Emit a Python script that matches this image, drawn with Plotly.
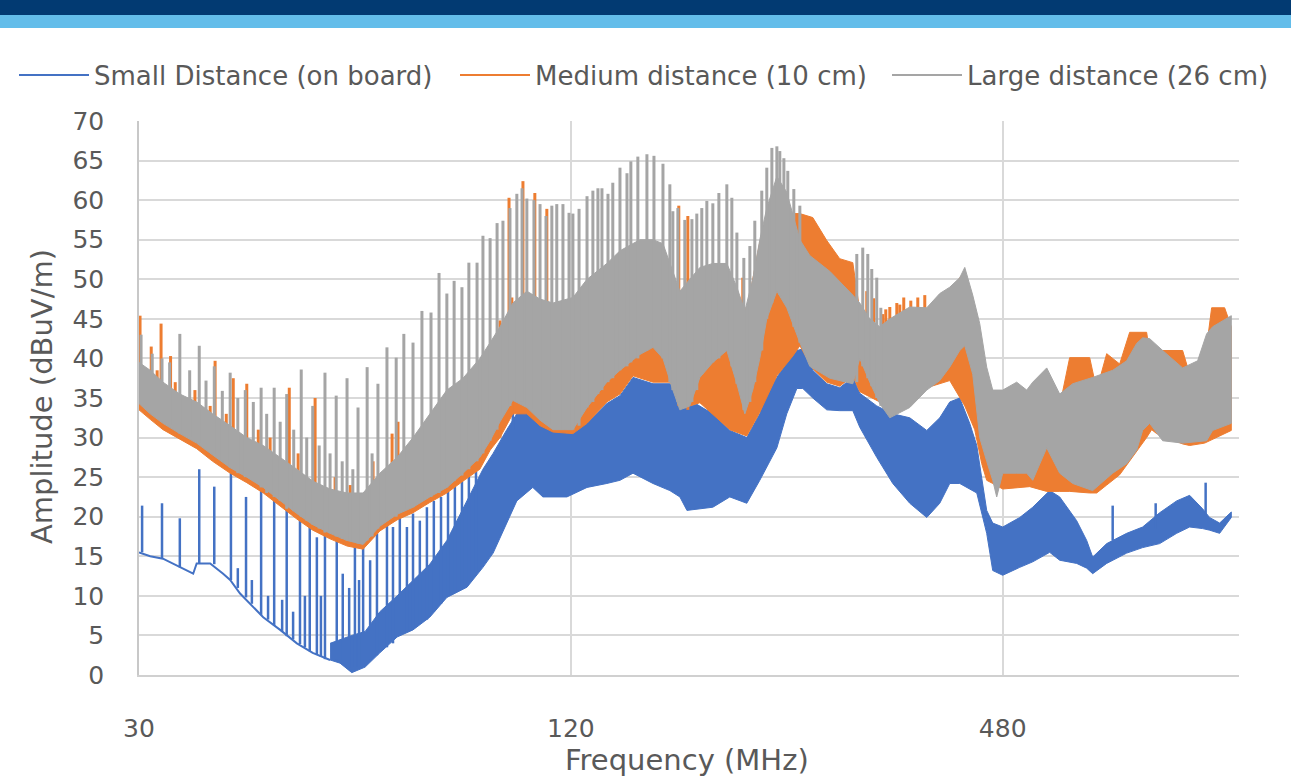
import plotly.graph_objects as go

# ---------------- data ----------------
names = ["Small Distance (on board)", "Medium distance (10 cm)", "Large distance (26 cm)"]
colors = ["#4472C4", "#ED7D31", "#A5A5A5"]

# Large distance (26 cm): dense band (lower / upper envelope) in MHz
grey_mhz = [30.0, 31.1, 32.4, 34.2, 36.1, 38.0, 40.2, 42.4, 44.7, 47.2,
            49.8, 52.4, 55.4, 58.5, 61.6, 65.0, 68.7, 72.3, 76.3, 80.6,
            84.9, 89.6, 92.6, 95.6, 99.6, 104.2, 108.7, 113.3, 120.8, 126.4,
            134.7, 140.5, 149.8, 156.2, 161.3, 166.5, 170.3, 175.8, 181.6, 189.3,
            198.0, 204.5, 209.8, 215.2, 220.1, 225.1, 232.5, 240.0, 250.3, 258.4,
            275.6, 296.7, 303.4, 313.3, 323.5, 334.1, 356.2, 376.2, 392.2, 405.0,
            418.2, 425.0, 436.0, 445.9, 456.0, 464.9, 470.9, 480.1, 502.1, 518.5,
            528.6, 552.9, 576.4, 601.0, 640.8, 683.3, 714.7, 738.0, 752.3, 769.4,
            802.2, 855.3, 897.5, 923.8, 941.8, 1000]
grey_lo = [34.3, 33, 31.8, 30.5, 29.3, 27.8, 26.2, 25, 23.7, 22,
           20.4, 19, 17.9, 17, 16.5, 18.8, 20.3, 21.2, 22.5, 23.7,
           25.5, 27.5, 29.6, 32, 34.7, 33.8, 32.2, 31, 31, 33.8,
           37, 38.5, 40.5, 41.4, 40, 36, 33.5, 34, 37.6, 39.5,
           41, 36.8, 33, 36, 40, 45, 48.5, 46.4, 42, 39,
           37.5, 36.8, 40, 37, 34.3, 32.5, 33.8, 36, 37.2, 38.9,
           41, 41.6, 38, 30, 27, 24.6, 22.5, 25.5, 25.5, 25.5,
           24.6, 28.7, 25.5, 24.2, 23.3, 25.5, 26.7, 28.4, 30.9, 31.8,
           29.6, 29.3, 29.5, 29.6, 30.9, 31.8]
grey_hi = [39.5, 38.5, 37, 35.5, 34.5, 33, 31.5, 30, 29, 27.5,
           26, 24.5, 23.5, 23, 23, 25.5, 27.5, 30, 33, 36,
           37.5, 40, 42, 44, 47, 48.5, 47.5, 47, 47.7, 50,
           52, 53.6, 55, 55, 54.5, 51, 48.5, 50, 51.5, 52,
           52, 49, 46, 50, 55, 59, 63, 61, 55, 53,
           51, 48, 47, 45, 44, 45, 46.5, 46.4, 48.2, 49,
           50.2, 51.5, 48, 44.4, 38.9, 36, 36, 36, 37, 36,
           37, 38.8, 35.5, 36.8, 37.6, 38.5, 39.7, 41.9, 42.6, 42.5,
           41, 38.8, 39.7, 43.1, 44, 45.4]
# Large distance: harmonic spikes (frequency, foot, peak)
grey_spike_mhz = [30.2, 31.3, 32.3, 33.1, 34.2, 35.3, 36.4, 37.2, 38.2, 39.2,
                  40.2, 41.2, 42.2, 43.3, 44.4, 45.2, 46.3, 47.2, 48.2, 49.3,
                  50.5, 51.4, 52.4, 53.5, 54.5, 55.4, 56.5, 57.6, 58.5, 59.6,
                  60.6, 62.4, 63.4, 64.6, 66.5, 68.5, 70.2, 72.3, 74.4, 76.6,
                  78.6, 80.6, 82.5, 84.6, 86.5, 88.8, 90.5, 92.6, 94.7, 96.5,
                  98.7, 100.9, 102.6, 104.2, 106.6, 108.7, 110.8, 112.9, 114.7, 117.0,
                  119.3, 120.8, 123.2, 126.4, 128.8, 130.9, 132.6, 135.2, 137.3, 140.5,
                  143.7, 145.5, 148.8, 153.2, 156.7, 161.3, 164.9, 166.5, 169.2, 173.0,
                  177.0, 179.8, 182.7, 185.7, 189.3, 193.0, 198.0, 201.2, 204.5, 209.1,
                  213.2, 216.6, 221.5, 225.1, 228.8, 232.5, 234.7, 237.8, 240.8, 245.5,
                  250.3, 300.5, 306.3, 311.3, 315.3, 320.4, 324.6]
grey_spike_foot = [35, 33.5, 32, 31.5, 30.5, 30, 29.3, 28.5, 27.8, 27,
                   26.2, 25.5, 25, 24.5, 23.7, 23, 22.5, 22, 21, 20.7,
                   20, 19.5, 19, 18.5, 18, 17.9, 17.5, 17.2, 17, 16.8,
                   16.6, 17, 17.5, 18.5, 19.5, 20, 21, 21.2, 22, 22.5,
                   23, 23.7, 24.5, 25.2, 26, 27, 28, 29.6, 31, 33,
                   34, 34.5, 34.5, 34, 33.5, 32.5, 32, 31.5, 31, 31,
                   31, 31, 31.5, 33.8, 34.5, 35.5, 36, 37, 37.5, 38.5,
                   39, 39.5, 40, 41, 41.4, 40, 37, 36, 34.5, 33.7,
                   34.5, 36, 38, 38.8, 39.5, 40, 41, 39, 36.8, 33.5,
                   34.5, 37, 41, 45, 47, 48.5, 48, 47.5, 46.5, 44,
                   42, 37, 39, 37.5, 36.5, 35, 34]
grey_spike_peak = [43, 40.6, 40, 39.5, 43.1, 38.5, 41.6, 37.2, 39, 35.9,
                   38.2, 35, 36, 34.5, 36.3, 33, 36.3, 32, 35.5, 31,
                   38.6, 30, 34, 29, 38.2, 28, 35.3, 27, 37.5, 26,
                   33.8, 38.9, 28, 36.8, 41.4, 40.1, 43.1, 42, 46, 45.8,
                   50.8, 48.2, 49.8, 49, 52.1, 52.1, 55.5, 55.2, 57.1, 57.4,
                   59, 60.8, 61.5, 60.2, 60, 59.5, 58, 59.3, 59.5, 59.5,
                   58.4, 58.3, 58.9, 60.5, 61.2, 61.5, 61.5, 60.8, 62.2, 64.1,
                   63.4, 64.9, 65.5, 65.8, 65.6, 64.6, 62, 58.6, 59, 57.5,
                   57.6, 58.3, 59, 59.9, 59.6, 60.9, 62, 60.3, 55.9, 52.7,
                   54.2, 57.4, 61.2, 64.1, 66.6, 66.8, 66.2, 65.3, 63.7, 61.4,
                   59.3, 53.2, 54, 53.2, 51.3, 50.2, 46.4]

# Medium distance (10 cm): dense band
orange_mhz = [30.0, 31.1, 32.4, 34.2, 36.1, 38.0, 40.2, 42.4, 44.7, 47.2,
              49.8, 52.4, 55.4, 58.5, 61.6, 65.0, 68.7, 72.3, 76.3, 80.6,
              84.9, 89.6, 92.6, 95.6, 99.6, 104.2, 108.7, 113.3, 120.8, 126.4,
              134.7, 140.5, 146.5, 156.2, 164.9, 170.3, 175.8, 181.6, 189.3, 199.9,
              211.1, 220.1, 232.5, 244.7, 250.3, 260.9, 272.9, 284.5, 296.7, 303.4,
              323.5, 339.5, 356.2, 376.2, 405.0, 425.0, 438.8, 448.8, 456.0, 464.9,
              480.1, 523.5, 552.9, 576.4, 595.2, 634.7, 649.1, 670.3, 698.8, 721.6,
              762.0, 774.4, 786.9, 855.3, 874.8, 917.9, 938.8, 978.8, 1000]
orange_lo = [33.5, 32.3, 31, 29.8, 28.6, 27, 25.5, 24.3, 23, 21.3,
             19.7, 18.3, 17.2, 16.3, 15.9, 18.2, 19.6, 20.5, 21.8, 23,
             24.5, 26, 28.4, 30, 33, 33, 31.5, 30.7, 30.5, 31.8,
             34.5, 35.5, 37.8, 37, 37, 35.2, 34, 34.4, 33, 31,
             30.2, 33.2, 37.8, 40.3, 41.6, 38.7, 37, 36.5, 37.8, 35.8,
             34.5, 35, 36.3, 36.3, 37.2, 34, 31, 26.7, 24.6, 24.2,
             23.5, 23.8, 23.2, 23.2, 23.2, 23, 23, 24, 25.3, 27,
             30, 31, 30.5, 29.2, 29, 29.3, 29.8, 30.5, 30.9]
orange_hi = [39.2, 38.2, 36.7, 35.2, 34.2, 32.7, 31.2, 29.7, 28.7, 27.2,
             25.7, 24.2, 23.2, 22.7, 22.7, 25.2, 27.2, 29.7, 32.7, 35.7,
             37.2, 39.7, 41.7, 43.7, 46.7, 48.2, 47.2, 46.7, 47.4, 49.7,
             51.7, 53.3, 54, 54.7, 51, 48.2, 49.7, 51.2, 51.7, 50,
             46, 54.7, 58, 58.3, 58.3, 57.8, 54.9, 52.6, 52.1, 46,
             43.5, 44.8, 46, 46, 48.5, 51, 44, 41, 37, 34.5,
             34, 34, 35, 34, 40.1, 40.1, 36, 40.6, 39.3, 43.3,
             43.3, 39, 41, 41, 38, 39.5, 46.4, 46.4, 44]
orange_spike_mhz = [30.1, 31.2, 31.8, 32.2, 33.2, 33.7, 35.9, 37.7, 38.3, 39.7,
                    40.6, 42.4, 44.0, 45.7, 48.6, 50.0, 52.8, 56.3, 59.1, 61.4,
                    63.6, 66.1, 67.6, 68.9, 73.9, 78.8, 84.1, 95.6, 98.4, 99.3,
                    102.9, 106.9, 111.1, 169.7, 174.7, 208.4,
                    310.3, 317.3, 326.7, 329.8, 334.1, 341.7, 345.0, 349.4, 357.4, 365.5,
                    373.8]
orange_spike_foot = [34, 32.5, 32, 31.5, 31, 30.5, 29, 28, 27.5, 26.5,
                     25.5, 25, 24, 23, 21, 20.2, 18.8, 17.5, 16.5, 16.2,
                     17.5, 19, 19.5, 20, 21.5, 23, 24.5, 30, 34, 33,
                     34, 33, 32, 34, 33.5, 33,
                     38, 37, 36, 36, 36, 36, 36, 36, 36.3, 36.3,
                     36.3]
orange_spike_peak = [45.4, 41.5, 38.5, 44.4, 40.3, 37, 36, 34, 39.7, 33,
                     37.5, 36.8, 31, 30, 36.3, 28, 35, 25, 24, 22.5,
                     27, 25, 30.5, 32, 30, 33, 36, 44.8, 60.3, 47.7,
                     62.4, 60.9, 58.9, 59.3, 58, 50.2,
                     48.5, 47.6, 45.6, 46.2, 46.5, 47, 46.8, 47.7, 47.3, 47.7,
                     48]

# Small distance (on board): single trace at low frequency, then dense band
blue_line_mhz = [30.0, 31.1, 32.4, 34.2, 35.7, 36.1, 37.7, 39.3, 40.2, 41.5,
                 43.3, 44.7, 47.2, 49.8, 52.4, 55.4]
blue_line_val = [15.5, 15, 14.7, 13.6, 12.8, 14.1, 14.1, 12.8, 12, 10.3,
                 8.6, 7.3, 5.7, 4, 2.8, 1.9]
blue_mhz = [55.4, 57.2, 59.4, 62.0, 65.0, 68.7, 72.3, 76.3, 80.6, 86.0,
            90.5, 93.5, 97.7, 100.9, 106.2, 109.7, 118.5, 126.4, 134.7, 140.5,
            146.5, 156.2, 164.9, 170.3, 174.2, 179.8, 189.3, 199.9, 211.1, 220.1,
            225.1, 232.5, 240.0, 247.9, 252.7, 260.9, 272.9, 284.5, 296.7, 303.4,
            320.4, 337.3, 356.2, 376.2, 392.2, 405.0, 418.2, 431.8, 441.7, 456.0,
            464.9, 480.1, 507.0, 528.6, 558.2, 576.4, 608.7, 628.6, 640.8, 670.3,
            714.7, 752.3, 794.5, 839.1, 874.8, 912.0, 932.7, 963.2, 1000]
blue_lo = [1.9, 1.5, 0.3, 1.0, 2.8, 4.8, 5.7, 7.3, 9.8, 11.1,
           13.6, 15.4, 19.2, 22, 23.7, 22.5, 22.5, 23.7, 24.2, 24.6,
           25.5, 24.2, 23.3, 22.5, 20.8, 21, 21.2, 22.5, 21.7, 24.6,
           26.2, 28.7, 33, 36.2, 36.2, 35, 33.5, 33.4, 33.4, 31.3,
           27.5, 24.2, 21.7, 19.9, 21.7, 24.2, 24.2, 23.5, 23, 17.9,
           13.2, 12.6, 13.6, 14.3, 15.5, 14.5, 14.1, 13.5, 12.8, 14.1,
           15.4, 16.1, 16.6, 17.9, 18.7, 18.5, 18.3, 17.9, 19.9]
blue_hi = [4, 4.5, 5, 5.5, 8, 10, 12, 14, 17, 22,
           26, 28, 31, 33, 33.5, 32.5, 30.5, 31.8, 34.3, 35.3,
           37.6, 36.8, 36.8, 35, 33.8, 34.2, 33, 30.9, 30, 33,
           35.5, 37.6, 39.5, 41, 41.2, 38.5, 36.8, 36.3, 37.6, 35.6,
           34, 33, 32.5, 30.9, 32.5, 34.5, 35, 31.8, 29, 20.8,
           19.2, 18.7, 19.9, 21.2, 23.3, 22.5, 19.5, 17, 14.9, 16.6,
           17.9, 18.7, 20.5, 22, 22.7, 21, 19.9, 19.2, 20.6]
blue_spike_mhz = [30.3, 32.3, 34.2, 36.4, 38.2, 40.3, 42.3, 44.4, 46.3, 48.2,
                  50.3, 51.9, 53.1, 54.5, 56.6, 57.7, 60.0, 61.6, 63.0, 64.4,
                  66.5, 67.8, 69.3, 70.9, 72.3, 73.9, 75.6, 77.3, 79.1, 80.9,
                  82.7, 84.6, 86.5, 88.5,
                  41.2, 43.1, 45.4, 47.5, 49.2, 51.1, 53.8, 58.9, 60.8,
                  99.6, 106.2, 683.3, 784.4, 920.9]
blue_spike_foot = [15.5, 14.7, 13.6, 14.1, 14, 12, 9.8, 7.6, 6.2, 4.9,
                   3.9, 3, 2.6, 2, 2, 1.5, 1, 1.5, 2, 2.5,
                   3.5, 4, 5, 5.5, 6, 6.5, 7, 8, 9, 10,
                   10.5, 11, 12, 13,
                   11, 9, 7, 5.5, 4.5, 3.5, 2.3, 1, 1,
                   31, 33, 17, 18.5, 20]
blue_spike_peak = [21.4, 21.7, 19.8, 26, 23.8, 27.5, 22.5, 26.7, 22.5, 24.6,
                   21.2, 19.5, 17.4, 19.5, 19.5, 12.8, 18.3, 16.1, 14.5, 19.5,
                   20.8, 18.7, 19.9, 18.7, 20.4, 19.5, 21.2, 22, 22.5, 24.5,
                   24, 26, 25.5, 28,
                   13.5, 12, 10, 9.5, 8, 10, 10, 11, 12,
                   36.3, 36.3, 21.4, 21.7, 24.3]

x_tick_vals = [30, 120, 480]
y_tick_vals = [0, 5, 10, 15, 20, 25, 30, 35, 40, 45, 50, 55, 60, 65, 70]

# ---------------- helpers ----------------
TEXT = "#595959"
FONT = "DejaVu Sans"


def band(f, lo, hi, color):
    return go.Scatter(x=list(f) + list(f)[::-1], y=list(hi) + list(lo)[::-1],
                      fill="toself", fillcolor=color, mode="lines",
                      line=dict(color=color, width=1), showlegend=False,
                      hoverinfo="skip")


def spikes(f, foot, peak, color, width):
    xs, ys = [], []
    for a, b, c in zip(f, foot, peak):
        xs += [a, a, None]
        ys += [b, c, None]
    return go.Scatter(x=xs, y=ys, mode="lines", connectgaps=False,
                      line=dict(color=color, width=width), showlegend=False,
                      hoverinfo="skip")


fig = go.Figure()
# legend entries (one legend box per entry, so each can sit where the reference has it)
legend_ids = ["legend", "legend2", "legend3"]
for n, c, lid in zip(names, colors, legend_ids):
    fig.add_trace(go.Scatter(x=[None], y=[None], mode="lines", name=n,
                             line=dict(color=c, width=2), legend=lid))

# small distance (bottom layer)
fig.add_trace(band(blue_mhz, blue_lo, blue_hi, colors[0]))
fig.add_trace(go.Scatter(x=blue_line_mhz, y=blue_line_val, mode="lines",
                         line=dict(color=colors[0], width=2),
                         showlegend=False, hoverinfo="skip"))
fig.add_trace(spikes(blue_spike_mhz, blue_spike_foot, blue_spike_peak, colors[0], 2.5))
# medium distance
fig.add_trace(band(orange_mhz, orange_lo, orange_hi, colors[1]))
fig.add_trace(spikes(orange_spike_mhz, orange_spike_foot, orange_spike_peak, colors[1], 3))
# large distance (top layer)
fig.add_trace(band(grey_mhz, grey_lo, grey_hi, colors[2]))
fig.add_trace(spikes(grey_spike_mhz, grey_spike_foot, grey_spike_peak, colors[2], 3))

W, H = 1291, 777
ML, MR, MT, MB = 139, 52, 121, 102
PW, PH = W - ML - MR, H - MT - MB


def px(xp):
    return (xp - ML) / PW


def py(yp):
    return (H - MB - yp) / PH


def legend_box(xpix):
    return dict(orientation="h", x=px(xpix), xanchor="left", y=py(75), yanchor="middle",
                font=dict(family=FONT, size=26, color=TEXT),
                itemwidth=70, bgcolor="rgba(0,0,0,0)")


fig.update_layout(
    width=W, height=H,
    margin=dict(l=ML, r=MR, t=MT, b=MB, pad=0),
    paper_bgcolor="white", plot_bgcolor="white",
    font=dict(family=FONT, color=TEXT),
    showlegend=True,
    legend=legend_box(14),
    legend2=legend_box(455),
    legend3=legend_box(887),
    xaxis=dict(type="log", range=[1.47712, 3.01072], tickvals=x_tick_vals,
               ticktext=[str(v) for v in x_tick_vals],
               tickfont=dict(family=FONT, size=25, color=TEXT),
               showgrid=True, gridcolor="#D9D9D9", gridwidth=1.5,
               showline=True, linecolor="#D0D0D0", linewidth=1.5,
               ticks="", ticklabelstandoff=30, zeroline=False),
    yaxis=dict(range=[0, 70], tickvals=y_tick_vals,
               tickfont=dict(family=FONT, size=25, color=TEXT),
               showgrid=True, gridcolor="#D9D9D9", gridwidth=1.5,
               showline=True, linecolor="#C8C8C8", linewidth=1.5,
               ticks="", ticklabelstandoff=28, zeroline=False),
    shapes=[
        dict(type="rect", xref="paper", yref="paper", x0=-0.2, x1=1.2,
             y0=py(15), y1=py(0) + 0.02, fillcolor="#023A72", line=dict(width=0),
             layer="above"),
        dict(type="rect", xref="paper", yref="paper", x0=-0.2, x1=1.2,
             y0=py(28), y1=py(15), fillcolor="#63BDEA", line=dict(width=0),
             layer="above"),
    ],
    annotations=[
        dict(text="Amplitude (dBuV/m)", xref="paper", yref="paper",
             x=px(42), y=py(397), textangle=-90, showarrow=False,
             font=dict(family=FONT, size=29, color=TEXT),
             xanchor="center", yanchor="middle"),
        dict(text="Frequency (MHz)", xref="paper", yref="paper",
             x=px(687), y=py(760), showarrow=False,
             font=dict(family=FONT, size=29, color=TEXT),
             xanchor="center", yanchor="middle"),
    ],
)

fig.write_html("out.html")
